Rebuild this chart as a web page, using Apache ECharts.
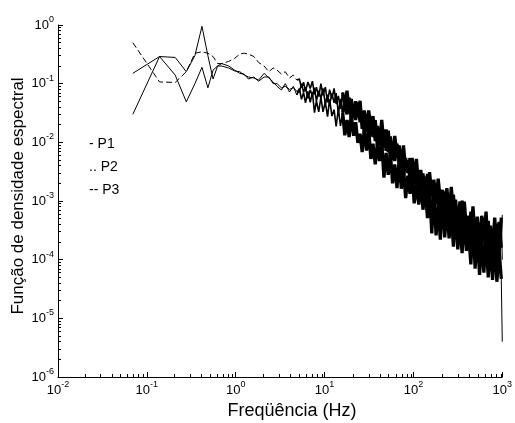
<!DOCTYPE html>
<html><head><meta charset="utf-8">
<script src="https://cdn.jsdelivr.net/npm/echarts@6/dist/echarts.min.js"></script>
<style>html,body{margin:0;padding:0;background:#fff}#c{width:515px;height:423px}</style>
</head><body><div id="c"></div>
<script>
// Frequencies (Hz)
const freq = [0.0695, 0.139, 0.2085, 0.278, 0.3475, 0.417, 0.4865, 0.556, 0.6255, 0.695,
  0.834, 0.973, 1.112, 1.251, 1.39, 1.6, 1.81, 2.09, 2.36, 2.64,
  2.92, 3.27, 3.61, 4.03, 4.45, 4.87,
  5.2, 5.5, 5.8, 6.1, 6.5, 6.9, 7.3, 7.7, 8.1, 8.6,
  9.1, 9.6, 10.2, 10.8, 11.4, 12.1, 12.8, 13.5, 14.3, 15.1,
  16, 16.9, 17.9, 18.9, 20, 21.2, 22.4, 23.7, 25.1, 26.5,
  28, 29.7, 31.4, 33.2, 35.1, 37.2, 39.3, 41.6, 44, 46.6,
  49.3, 52.1, 55.1, 58.3, 61.7, 65.3, 69.1, 73.1, 77.3, 81.8,
  86.5, 91.5, 96.8, 102, 108, 115, 121, 128, 136, 144,
  152, 161, 170, 180, 190, 201, 213, 225, 238, 252,
  267, 282, 298, 316, 334, 353, 374, 395, 418, 443,
  468, 495, 524, 555, 587, 621, 657, 695, 735, 778,
  823, 870, 921, 975, 1000];

// P1 (solid)
const p1 = [0.03, 0.29, 0.14, 0.049, 0.1, 0.19, 0.085, 0.17, 0.2, 0.2,
  0.185, 0.165, 0.16, 0.14, 0.13, 0.125, 0.115, 0.15, 0.125, 0.107,
  0.09, 0.078, 0.1, 0.072, 0.09, 0.064,
  8.3e-2, 5.4e-2, 7.1e-2, 4.7e-2, 7.4e-2, 4.8e-2, 7.2e-2, 3.2e-2, 5.1e-2, 3.3e-2,
  5.9e-2, 3.3e-2, 4.9e-2, 2.75e-2, 5.4e-2, 2.8e-2, 3.6e-2, 1.86e-2, 3.7e-2, 1.9e-2,
  3.2e-2, 1.32e-2, 2.4e-2, 1.23e-2, 3.0e-2, 1.29e-2, 2.2e-2, 9.8e-3, 1.41e-2, 6.8e-3,
  1.7e-2, 7.2e-3, 1.66e-2, 5.2e-3, 9.5e-3, 4.2e-3, 9.5e-3, 4.8e-3, 1.0e-2, 2.5e-3,
  6.6e-3, 2.8e-3, 6.5e-3, 2.0e-3, 4.2e-3, 1.66e-3, 5.0e-3, 1.62e-3, 3.6e-3, 1.12e-3,
  2.7e-3, 1.32e-3, 3.2e-3, 9.1e-4, 1.82e-3, 8.7e-4, 2.6e-3, 7.1e-4, 1.55e-3, 5.1e-4,
  1.48e-3, 2.8e-4, 1.48e-3, 2.6e-4, 7.9e-4, 2.2e-4, 1.2e-3, 2.4e-4, 8.3e-4, 2.3e-4,
  5.9e-4, 1.66e-4, 6.6e-4, 1.5e-4, 4.8e-4, 1.29e-4, 5.4e-4, 1.41e-4, 2.95e-4, 8.3e-5,
  4.5e-4, 7.0e-5, 2.95e-4, 5.5e-5, 2.1e-4, 6.0e-5, 2.6e-4, 5.0e-5, 1.9e-4, 4.5e-5,
  2.2e-4, 4.2e-5, 1.45e-4, 4.7e-5, 4.0e-6];

// P2 (dotted)
const p2 = [0.15, 0.29, 0.28, 0.16, 0.3, 0.95, 0.3, 0.12, 0.2, 0.22,
  0.2, 0.17, 0.15, 0.145, 0.12, 0.13, 0.11, 0.13, 0.13, 0.1,
  0.1, 0.085, 0.09, 0.08, 0.085, 0.075,
  7.1e-2, 1.0e-1, 7.2e-2, 8.7e-2, 5.6e-2, 7.9e-2, 6.1e-2, 8.5e-2, 5.1e-2, 7.6e-2,
  5.6e-2, 8.3e-2, 4.5e-2, 6.5e-2, 4.4e-2, 6.8e-2, 4.7e-2, 6.9e-2, 3.1e-2, 5.5e-2,
  3.2e-2, 4.8e-2, 3.0e-2, 5.8e-2, 2.3e-2, 4.2e-2, 2.4e-2, 4.8e-2, 2.2e-2, 3.3e-2,
  1.45e-2, 3.0e-2, 1.07e-2, 2.2e-2, 1.23e-2, 2.4e-2, 8.7e-3, 1.38e-2, 7.1e-3, 1.48e-2,
  7.2e-3, 1.58e-2, 5.0e-3, 8.9e-3, 4.8e-3, 9.5e-3, 4.4e-3, 7.4e-3, 2.5e-3, 5.4e-3,
  3.0e-3, 5.4e-3, 2.0e-3, 3.7e-3, 1.55e-3, 2.8e-3, 1.15e-3, 2.95e-3, 1.32e-3, 2.9e-3,
  1.38e-3, 2.0e-3, 7.4e-4, 2.0e-3, 7.6e-4, 1.29e-3, 4.9e-4, 1.45e-3, 6.3e-4, 1.1e-3,
  4.0e-4, 1.29e-3, 4.2e-4, 7.6e-4, 3.0e-4, 1.02e-3, 2.75e-4, 5.1e-4, 1.78e-4, 6.6e-4,
  2.4e-4, 5.1e-4, 1.29e-4, 4.2e-4, 1.48e-4, 5.2e-4, 1.82e-4, 4.6e-4, 1.32e-4, 3.2e-4,
  1.0e-4, 4.1e-4, 1.35e-4, 5.2e-4, 1.0e-4];

// P3 (dashed)
const p3 = [0.5, 0.107, 0.105, 0.16, 0.33, 0.35, 0.33, 0.29, 0.22, 0.22,
  0.24, 0.27, 0.32, 0.33, 0.32, 0.29, 0.23, 0.2, 0.16, 0.185,
  0.17, 0.146, 0.16, 0.125, 0.14, 0.115,
  1.2e-1, 8.5e-2, 1.06e-1, 7.4e-2, 1.07e-1, 8.3e-2, 1.1e-1, 6.6e-2, 8.7e-2, 6.0e-2,
  1.0e-1, 6.3e-2, 8.7e-2, 4.8e-2, 7.9e-2, 5.6e-2, 8.3e-2, 4.5e-2, 6.2e-2, 3.7e-2,
  7.1e-2, 4.0e-2, 7.6e-2, 3.5e-2, 5.5e-2, 2.7e-2, 5.0e-2, 3.0e-2, 5.1e-2, 1.7e-2,
  3.5e-2, 1.8e-2, 3.5e-2, 1.8e-2, 2.8e-2, 1.05e-2, 1.9e-2, 1.0e-2, 2.4e-2, 9.5e-3,
  1.66e-2, 6.8e-3, 1.26e-2, 5.0e-3, 1.29e-2, 6.0e-3, 8.9e-3, 4.0e-3, 8.9e-3, 3.4e-3,
  4.9e-3, 2.3e-3, 5.4e-3, 2.5e-3, 5.2e-3, 1.7e-3, 3.4e-3, 1.6e-3, 2.6e-3, 1.07e-3,
  3.1e-3, 1.23e-3, 2.3e-3, 9.3e-4, 2.4e-3, 1.02e-3, 1.55e-3, 5.8e-4, 1.66e-3, 5.9e-4,
  1.74e-3, 5.9e-4, 1.05e-3, 3.7e-4, 9.8e-4, 2.7e-4, 9.8e-4, 3.3e-4, 5.6e-4, 2.4e-4,
  8.1e-4, 2.3e-4, 5.4e-4, 1.6e-4, 5.6e-4, 2.3e-4, 6.6e-4, 1.38e-4, 3.8e-4, 1.6e-4,
  5.2e-4, 1.07e-4, 4.4e-4, 1.6e-4, 5.8e-4];

const xTicks = [0.01, 0.1, 1, 10, 100, 1000];
const yTicks = [1e-6, 1e-5, 1e-4, 1e-3, 1e-2, 1e-1, 1];
const seriesNames = ['P1', 'P2', 'P3'];
const legendLabels = ['- P1', '.. P2', '-- P3'];
const xTitle = 'Freqüência (Hz)';
const yTitle = 'Função de densidade espectral';
// frequency bands drawn with increasing stroke (dense part of the spectrum)
const bandEdges = [0, 4.87, 16, 975, 1000];

function minorOf(ticks) {
  const out = [];
  for (let i = 0; i < ticks.length - 1; i++) {
    for (let m = 2; m <= 9; m++) out.push(+(ticks[i] * m).toPrecision(6));
  }
  return out;
}
const FONT = "'Liberation Sans', Arial, sans-serif";
const rich = {
  b: { fontSize: 13, lineHeight: 20, fontFamily: FONT, color: '#000' },
  s: { fontSize: 9, lineHeight: 8, verticalAlign: 'top', fontFamily: FONT, color: '#000' }
};
function powLabel(v) {
  const e = Math.round(Math.log10(v));
  return '{b|10}{s|' + e + '}';
}
const gridBox = { left: 58, top: 25, right: 10, bottom: 46, containLabel: false };

const chart = echarts.init(document.getElementById('c'), null, { renderer: 'canvas' });
const lowStyles = ['solid', 'solid', [6, 3]];
const bandWidths = [1, 1.6, 3.3, 1];
const datas = [p1, p2, p3];
const series = [];
datas.forEach((d, k) => {
  const pts = freq.map((f, i) => [f, d[i]]);
  for (let b = 0; b < bandEdges.length - 1; b++) {
    const lo = bandEdges[b], hi = bandEdges[b + 1];
    series.push({
      name: seriesNames[k], type: 'line', xAxisIndex: 0, yAxisIndex: 0,
      data: pts.filter(p => p[0] >= lo && p[0] <= hi),
      showSymbol: false, symbol: 'none', silent: true,
      lineStyle: { color: '#000', width: bandWidths[b], type: b === 0 ? lowStyles[k] : 'solid', join: 'bevel', cap: 'butt' }
    });
  }
});

chart.setOption({
  animation: false,
  backgroundColor: '#fff',
  grid: [Object.assign({}, gridBox), Object.assign({}, gridBox)],
  xAxis: [{
    type: 'log', gridIndex: 0, min: 0.01, max: 1000, logBase: 10,
    axisLine: { lineStyle: { color: '#000', width: 1 } },
    axisTick: { inside: true, length: 5, customValues: xTicks, lineStyle: { color: '#000' } },
    axisLabel: { customValues: xTicks, formatter: powLabel, rich: rich, margin: 3, color: '#000' },
    splitLine: { show: false }, minorTick: { show: false }
  }, {
    type: 'log', gridIndex: 1, min: 0.01, max: 1000, logBase: 10,
    axisLine: { show: false },
    axisTick: { inside: true, length: 3, customValues: minorOf(xTicks), lineStyle: { color: '#000' } },
    axisLabel: { show: false }, splitLine: { show: false }
  }],
  yAxis: [{
    type: 'log', gridIndex: 0, min: 1e-6, max: 1, logBase: 10,
    axisLine: { show: true, lineStyle: { color: '#000', width: 1 } },
    axisTick: { show: true, inside: true, length: 5, customValues: yTicks, lineStyle: { color: '#000' } },
    axisLabel: { customValues: yTicks, formatter: powLabel, rich: rich, margin: 4, color: '#000' },
    splitLine: { show: false }
  }, {
    type: 'log', gridIndex: 1, min: 1e-6, max: 1, logBase: 10,
    axisLine: { show: false },
    axisTick: { show: true, inside: true, length: 3, customValues: minorOf(yTicks), lineStyle: { color: '#000' } },
    axisLabel: { show: false }, splitLine: { show: false }
  }],
  graphic: legendLabels.map((t, i) => ({
    type: 'text', left: 89, top: 137 + i * 23,
    style: { text: t, fontSize: 14, fontFamily: FONT, fill: '#000' }
  })).concat([{
    type: 'text', x: 292, y: 411,
    style: { text: xTitle, fontSize: 18, fontFamily: FONT, fill: '#000', align: 'center', verticalAlign: 'middle' }
  }, {
    type: 'text', x: 18, y: 196, rotation: Math.PI / 2,
    style: { text: yTitle, fontSize: 17, fontFamily: FONT, fill: '#000', align: 'center', verticalAlign: 'middle' }
  }]),
  series: series
});
</script></body></html>
